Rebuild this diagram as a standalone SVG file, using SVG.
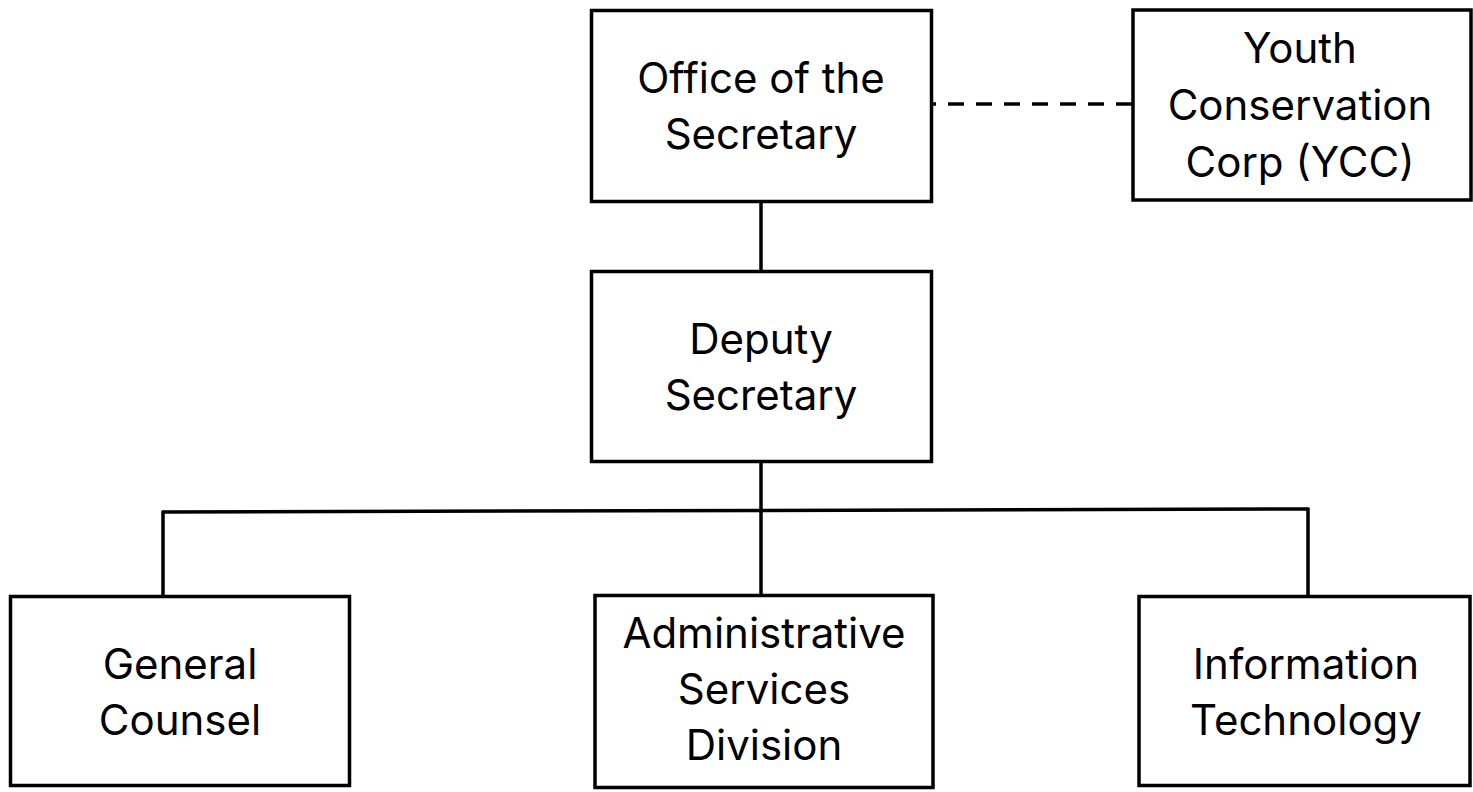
<svg xmlns="http://www.w3.org/2000/svg" width="1473" height="792" viewBox="0 0 1473 792">
<style>
.box{fill:#fff;stroke:#000;stroke-width:3.5}
.lbl{font-family:Inter,"Liberation Sans",sans-serif;font-size:42px;fill:#000;text-anchor:middle}
.con{stroke:#000;stroke-width:3.5;fill:none}
.dash{stroke-dasharray:16 12}
</style>
<rect width="1473" height="792" fill="#fff"/>
<g id="connectors">
<line class="con" x1="761" y1="201" x2="761" y2="271"/>
<line class="con" x1="761" y1="462" x2="761" y2="595"/>
<line class="con" x1="163" y1="512" x2="1308" y2="509"/>
<line class="con" x1="163" y1="510.5" x2="163" y2="596"/>
<line class="con" x1="1308" y1="507.5" x2="1308" y2="596"/>
<line class="con dash" x1="1132" y1="104" x2="932" y2="104"/>
</g>
<g id="office">
<rect class="box" x="591.5" y="10.5" width="340" height="191"/>
<text class="lbl" x="761" y="93">Office of the</text>
<text class="lbl" x="761" y="149">Secretary</text>
</g>
<g id="ycc">
<rect class="box" x="1133" y="10" width="338" height="190"/>
<text class="lbl" x="1300" y="63">Youth</text>
<text class="lbl" x="1300" y="120">Conservation</text>
<text class="lbl" x="1300" y="177">Corp (YCC)</text>
</g>
<g id="deputy">
<rect class="box" x="591.5" y="271.5" width="340" height="190"/>
<text class="lbl" x="761" y="354">Deputy</text>
<text class="lbl" x="761" y="410">Secretary</text>
</g>
<g id="general-counsel">
<rect class="box" x="10.5" y="596.5" width="339" height="189"/>
<text class="lbl" x="180" y="679">General</text>
<text class="lbl" x="180" y="735">Counsel</text>
</g>
<g id="admin">
<rect class="box" x="595" y="595.5" width="338" height="192"/>
<text class="lbl" x="764" y="648">Administrative</text>
<text class="lbl" x="764" y="704">Services</text>
<text class="lbl" x="764" y="760">Division</text>
</g>
<g id="it">
<rect class="box" x="1139" y="596.5" width="331" height="189"/>
<text class="lbl" x="1306" y="679">Information</text>
<text class="lbl" x="1306" y="735">Technology</text>
</g>
</svg>
